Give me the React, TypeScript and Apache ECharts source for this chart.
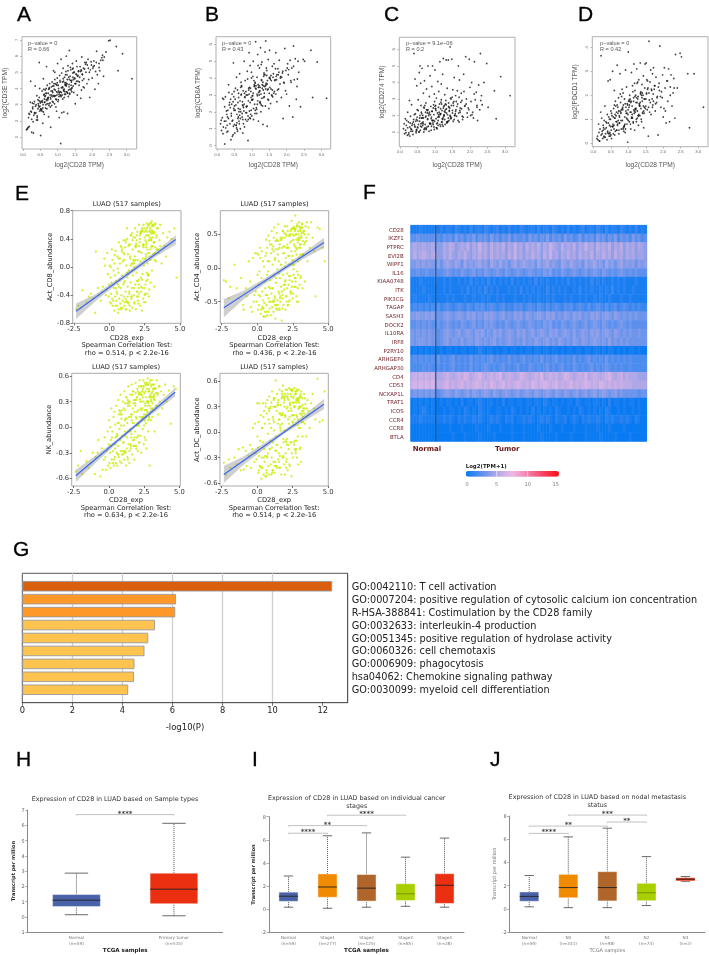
import React, { useEffect, useRef } from "react";
import * as echarts from "echarts";

// ---------- A-D: GEPIA scatter data ----------
const cd28Tpm = [
.10,.12,.13,.15,.16,.18,.19,.21,.22,.22,.24,.25,.27,.28,.30,.31,.33,.35,.37,.39,
.40,.41,.42,.43,.45,.46,.47,.48,.49,.50,.51,.52,.53,.55,.56,.57,.58,.59,.60,.60,
.61,.62,.63,.65,.66,.67,.68,.69,.70,.72,.73,.74,.75,.76,.78,.79,.80,.81,.83,.84,
.85,.86,.88,.89,.90,.91,.92,.93,.95,.96,.97,.98,.99,1.00,1.02,1.03,1.04,1.05,1.07,1.08,
1.09,1.10,1.11,1.12,1.14,1.15,1.16,1.17,1.18,1.19,1.20,1.22,1.23,1.24,1.25,1.26,1.28,1.29,1.30,1.32,
1.33,1.34,1.35,1.36,1.38,1.39,1.40,1.41,1.43,1.44,1.45,1.47,1.48,1.50,1.51,1.52,1.54,1.55,1.57,1.59,
1.60,1.62,1.64,1.65,1.67,1.69,1.70,1.72,1.75,1.77,1.79,1.82,1.85,1.88,1.90,1.93,1.95,1.98,2.00,2.03,
2.05,2.08,2.10,2.13,2.15,2.18,2.20,2.22,2.25,2.28,2.30,2.33,2.35,2.40,2.48,2.52,2.70,2.75,2.88,3.15,
.28,.34,.44,.54,.64,.71,.77,.87,.94,1.01,1.06,1.13,1.21,1.27,1.31,1.37,1.42,1.49,1.56,1.63,
.36,.47,.52,.59,.68,.75,.82,.92,.99,1.05,1.12,1.18,1.25,1.3,1.35,1.46,1.53,1.68,1.74,1.83,
.33,.38,.43,.49,.55,.62,.66,.72,.79,.84,.9,.96,1.03,1.09,1.15,1.2,1.24,1.28,1.33,1.38,
.41,.46,.57,.63,.7,.74,.8,.86,.91,.97,1.02,1.08,1.14,1.19,1.22,1.29,1.34,1.4,1.44,1.5,
.5,.61,.69,.78,.85,.93,1,1.04,1.11,1.16,1.21,1.26,1.32,1.36,1.41,1.47,1.52,1.58,1.66,1.72,
.25,.31,.56,.65,.73,.83,.89,.95,1.07,1.17,1.23,1.39,1.43,1.55,1.61,1.71,1.78,1.86,1.92,2.02,
.17,.29,.48,.67,.76,.88,.98,1.1,1.27,1.45,1.59,1.69,1.76,1.81,1.89,1.97,2.06,2.12,2.2,2.31];
const cd3e = [
1.45,1.5,1.55,1.6,2.2,1.65,2.4,3.15,4.45,2.6,2.55,1.3,3.1,2.75,1.25,3.05,3.2,4.15,2.5,2.05,
3.55,2.3,2.05,3.3,2.95,2.85,5.6,4.0,2.9,3.1,1.1,2.75,3.2,3.85,3.25,1.85,3.0,2.55,3.6,3.95,
2.4,3.35,3.15,3.55,3.0,4.0,5.35,2.75,4.2,3.3,3.7,2.25,3.05,4.05,3.6,3.45,1.6,3.85,2.95,4.4,
3.2,3.75,5.1,4.3,3.5,3.05,5.0,3.9,2.85,4.25,2.6,3.6,4.65,5.55,3.3,4.0,3.65,2.2,4.5,3.8,
0.6,5.8,3.75,2.5,4.1,3.35,5.25,4.45,2.55,3.95,4.7,4.2,3.65,5.05,6.0,3.8,4.55,2.45,5.4,3.9,
4.25,6.35,3.65,4.75,5.15,3.9,4.4,3.8,5.55,4.95,4.15,3.75,5.0,4.6,3.05,4.3,5.7,4.85,3.6,4.45,
5.05,4.2,4.7,5.35,3.4,3.9,5.95,4.5,5.25,4.05,5.6,5.0,4.3,5.8,4.55,3.45,5.15,5.45,4.65,5.35,
5.7,3.95,5.05,6.3,4.85,4.3,5.55,5.1,5.75,5.9,6.05,4.75,5.95,6.25,6.95,6.98,6.6,5.1,6.15,4.6,
2.85,2.45,3.05,2.7,3.9,3.4,4.3,3.15,3.55,3.2,4.8,3.6,4.35,4.85,3.5,5.3,4.05,4.65,5.35,4.4,
2.9,3.45,2.65,4.6,3.7,2.95,4.1,4.55,4.35,3.75,4.95,3.85,4.15,5.1,3.7,4.55,4.9,5.15,4.1,5.6,
2.5,3.0,2.75,3.2,2.6,3.15,3.7,3.4,2.85,3.5,3.95,3.3,3.85,3.55,4.05,3.65,4.35,3.75,4.1,4.5,
2.2,3.25,2.8,3.5,3.05,3.95,3.35,4.15,3.55,3.8,4.2,3.6,4.4,3.45,4.25,3.7,4.55,4.0,4.7,4.3,
2.7,3.65,3.25,3.1,3.85,4.3,3.75,3.5,4.05,4.6,3.8,4.25,4.7,3.95,4.5,5.0,4.3,4.75,5.05,4.85,
2.1,2.35,3.15,2.8,3.45,3.6,4.15,3.35,4.4,3.9,4.85,4.2,5.2,4.45,5.1,4.9,5.2,5.45,5.0,5.25,
2.45,1.95,2.6,3.3,4.0,3.55,4.2,3.5,4.3,5.25,4.8,5.1,4.6,5.5,5.25,5.65,5.4,5.6,5.3,5.75];
const cd8a = [
1.3,1.5,0.9,1.65,2.8,1.1,2.75,1.45,0.1,2.3,2.9,1.05,2.05,0.8,1.7,0.85,3.6,2.4,1.3,2.75,
0.35,1.75,2.45,3.05,1.5,0.65,4.9,2.9,3.2,1.25,0.75,2.1,3.4,1.2,4.05,1.85,0.95,3.3,1.6,2.55,
2.2,3.1,1.45,4.25,2.65,1.0,2.0,3.75,3.55,1.7,2.4,0.75,3.25,1.3,5.0,1.1,2.85,3.85,1.95,3.0,
2.3,1.45,3.95,0.3,2.65,3.4,5.5,2.05,4.75,1.6,3.2,2.85,4.35,1.75,2.95,4.1,5.0,1.55,3.5,2.45,
3.75,2.1,6.15,3.35,1.9,4.05,2.95,5.4,3.6,1.45,3.15,4.6,2.55,3.45,5.8,2.0,3.9,4.95,3.4,1.25,
3.55,2.85,4.2,3.1,5.55,2.35,6.2,3.7,4.45,1.15,3.3,5.1,2.7,4.0,5.65,3.45,2.5,4.15,3.0,4.7,
2.9,4.25,4.85,3.2,3.9,5.5,4.1,2.6,4.55,3.35,5.05,4.0,2.85,4.3,1.6,3.7,5.75,4.45,3.05,4.85,
4.2,2.35,5.05,3.75,4.6,1.7,5.9,3.9,5.15,2.75,3.5,5.0,4.35,2.3,5.1,5.0,5.65,2.85,4.95,2.8,
1.85,3.15,0.55,2.4,1.3,3.5,2.05,4.4,1.65,2.7,3.85,2.25,3.0,4.8,2.35,3.5,4.6,2.2,3.85,3.1,
2.55,1.15,2.75,0.85,3.45,2.35,1.55,3.05,4.0,2.2,3.55,4.75,2.5,3.6,4.3,2.75,3.95,4.55,3.3,4.1,
1.6,2.25,1.45,2.1,1.2,2.85,2.15,1.9,3.1,2.3,1.55,3.4,2.75,1.9,3.05,3.45,2.6,3.85,3.3,4.2,
1.9,2.6,1.35,2.0,3.05,1.55,2.9,2.35,3.3,1.85,2.95,3.55,2.15,3.45,3.2,2.8,4.1,3.35,3.65,3.1,
2.35,1.7,3.0,2.45,1.95,3.45,2.7,3.1,3.4,2.45,3.55,3.05,3.75,2.9,3.6,3.35,4.05,2.95,3.85,4.2,
1.45,2.1,1.05,1.8,2.6,3.2,1.75,2.55,3.6,2.65,3.25,3.55,4.15,3.35,4.05,3.9,4.35,4.05,3.75,4.6,
0.7,1.2,2.2,1.6,2.25,3.0,2.1,3.7,2.4,3.85,3.3,3.05,4.2,3.65,4.4,3.25,4.5,3.85,4.7,3.95];
const cd274 = [
1.2,1.5,0.9,1.8,1.1,1.4,1.7,0.8,2.2,1.25,1.6,0.95,2.9,1.3,1.95,1.05,2.65,1.5,0.85,1.75,
5.75,2.05,1.35,4.2,1.65,0.95,1.15,3.8,2.35,1.7,1.25,2.95,1.45,4.6,1.85,5.0,1.1,3.95,2.6,1.5,
2.2,1.3,4.85,2.0,1.6,3.35,1.0,2.45,4.1,1.45,1.9,2.75,1.2,3.6,2.3,1.75,5.0,1.35,2.1,3.15,
1.55,4.4,2.55,1.1,1.9,3.75,2.25,5.0,1.45,2.65,2.05,3.3,1.65,4.75,2.4,1.8,3.05,1.25,2.15,4.05,
1.7,2.5,3.45,1.9,5.25,2.1,1.35,2.8,3.9,1.6,2.3,4.5,1.85,5.45,2.55,2.0,3.25,1.45,2.7,5.35,
2.4,1.55,3.65,2.05,5.35,2.75,1.7,2.25,6.15,3.05,1.9,2.6,5.4,2.15,3.55,1.65,2.85,4.3,2.0,3.2,
2.35,1.95,3.5,2.7,5.0,1.6,4.15,2.2,3.35,2.9,1.75,4.5,2.55,5.55,3.0,1.9,2.45,5.4,3.7,2.85,
4.0,2.2,1.85,5.25,2.95,3.4,2.5,1.7,3.85,2.35,5.75,3.2,2.65,4.0,5.15,2.5,3.5,1.8,4.35,3.2,
0.75,1.4,2.1,1.0,1.85,2.6,1.3,2.05,1.55,2.4,1.2,2.7,1.8,2.25,2.9,1.65,2.45,3.1,2.0,2.55,
1.05,1.75,2.3,1.35,2.5,1.15,2.0,1.7,2.85,1.5,2.2,2.95,1.95,2.35,1.6,3.0,2.6,2.15,2.8,3.45,
1.15,1.6,1.3,1.9,1.0,2.1,1.5,1.25,1.8,2.2,1.35,1.7,2.3,1.4,2.05,1.6,2.45,1.75,2.15,1.85,
1.45,1.05,2.0,1.55,1.2,1.95,2.35,1.5,2.25,1.3,2.6,1.9,1.45,2.7,1.75,2.2,1.6,2.5,1.95,2.3,
1.3,1.85,1.15,2.15,1.5,1.7,2.55,1.25,1.95,2.4,1.45,2.05,2.65,1.6,2.3,1.85,2.75,2.1,1.7,2.45,
0.85,1.2,1.65,1.4,2.2,1.05,1.8,2.45,1.55,2.1,1.35,2.55,2.0,1.75,2.85,2.3,1.95,2.6,2.15,2.0,
0.95,1.55,1.1,1.85,2.35,1.5,1.15,2.05,2.6,1.8,2.25,3.1,2.4,1.9,2.7,2.35,2.05,3.3,2.6,2.9];
const pdcd1 = [
0.2,0.3,0.15,0.8,0.45,0.1,0.6,1.3,3.65,0.35,1.05,0.5,0.2,0.75,0.3,0.95,1.55,0.4,0.65,0.15,
1.2,0.5,2.6,0.85,0.3,1.0,0.45,2.65,0.7,1.35,0.55,0.2,1.15,3.0,0.8,0.4,1.45,0.6,1.6,2.2,
0.35,1.05,1.75,0.9,1.3,0.55,3.25,0.75,1.5,1.9,0.4,1.15,0.85,2.9,1.7,1.25,0.6,1.95,0.95,1.4,
2.1,1.6,0.7,1.85,1.1,0.45,3.05,1.35,2.35,0.8,1.65,0.05,1.2,3.8,1.5,0.9,2.0,1.3,0.6,1.75,
2.95,1.05,1.55,2.4,0.85,1.9,3.3,1.25,0.55,2.2,1.45,1.7,1.0,3.1,2.5,1.35,1.95,0.75,2.65,1.55,
1.15,3.35,2.05,1.45,0.9,2.45,1.75,1.3,2.8,0.65,1.85,2.3,3.3,1.55,3.35,2.1,1.4,2.6,0.3,4.25,
1.8,2.55,3.05,1.2,2.2,2.9,1.6,3.15,2.4,1.35,2.75,1.9,0.35,2.5,4.05,1.5,2.15,2.85,1.1,3.15,
2.3,0.85,2.6,1.75,3.1,0.9,2.35,2.85,1.55,2.1,2.7,1.05,3.7,2.3,3.75,3.6,2.9,0.65,2.9,1.5,
0.55,0.25,1.1,0.7,1.55,0.95,2.05,0.5,1.25,1.75,0.8,2.15,1.4,2.55,1.65,1.0,2.0,1.45,2.3,1.7,
0.9,0.4,1.25,0.75,1.6,1.1,2.25,0.6,1.4,1.85,1.05,2.5,1.7,1.2,2.1,1.5,2.65,1.85,2.25,1.95,
.6,.85,.4,1.0,.7,1.2,.55,1.35,.95,1.5,.8,1.25,1.6,1.05,1.75,1.3,1.9,1.15,1.55,2.0,
.45,.75,1.1,.5,1.25,.85,1.4,.65,1.65,1.0,1.8,1.3,.9,1.95,1.45,1.15,1.7,2.1,1.35,1.85,
.35,1.05,.8,1.3,.6,1.5,.95,1.75,1.2,1.4,2.0,1.05,1.6,2.15,1.25,1.85,2.05,1.5,2.25,1.75,
.4,.25,.7,1.15,.55,1.45,.75,1.05,1.7,1.35,.9,1.9,1.55,2.25,1.3,2.05,1.65,2.35,1.95,1.45,
.1,.65,.3,.9,1.35,.7,1.6,1.1,1.85,1.25,2.1,1.5,2.4,1.7,2.2,1.9,1.35,2.6,2.0,2.3];

// ---------- E: TIMER style scatter data ----------
const cd28Exp = [
-2.35,-2.2,-2.0,-1.9,-1.6,-1.45,-1.3,-1.15,-1.0,-.95,-.8,-.75,-.6,-.5,-.45,-.35,-.3,-.2,-.15,-.1,
-.05,0,.02,.05,.08,.1,.12,.15,.18,.2,.25,.3,.32,.35,.38,.4,.42,.45,.48,.5,
.52,.55,.58,.6,.62,.65,.68,.7,.72,.75,.78,.8,.82,.85,.88,.9,.92,.95,.98,1.0,
1.02,1.05,1.08,1.1,1.12,1.15,1.18,1.2,1.22,1.25,1.28,1.3,1.32,1.35,1.38,1.4,1.42,1.45,1.48,1.5,
1.52,1.55,1.58,1.6,1.62,1.65,1.68,1.7,1.72,1.75,1.78,1.8,1.82,1.85,1.88,1.9,1.92,1.95,1.98,2.0,
2.02,2.05,2.08,2.1,2.12,2.15,2.18,2.2,2.22,2.25,2.28,2.3,2.32,2.35,2.38,2.4,2.42,2.45,2.48,2.5,
2.52,2.55,2.58,2.6,2.62,2.65,2.68,2.7,2.72,2.75,2.78,2.8,2.82,2.85,2.88,2.9,2.92,2.95,2.98,3.0,
3.02,3.05,3.08,3.1,3.15,3.18,3.2,3.25,3.3,3.35,3.4,3.45,3.5,3.55,3.6,3.7,3.8,3.9,4.0,4.1,
4.25,4.4,4.6,4.75,1.1,1.3,1.6,1.9,2.1,2.3,2.55,2.7,2.85,3.0,2.4,2.65,2.9,1.75,2.0,2.2,
.6,.9,1.15,1.4,1.7,1.95,2.15,2.35,2.6,2.8,3.05,3.25,2.5,2.75,3.15,1.25,1.55,.75,1.85,2.45,
-.25,.22,.44,.7,.95,1.06,1.18,1.33,1.46,1.57,1.66,1.77,1.86,1.96,2.06,2.16,2.26,2.36,2.46,2.56,
.12,.36,.56,.8,1.0,1.14,1.24,1.36,1.44,1.54,1.64,1.74,1.84,1.94,2.04,2.14,2.24,2.34,2.44,2.54,
2.6,2.66,2.7,2.76,2.8,2.86,2.9,2.94,3.0,3.04,3.1,3.14,3.2,3.3,3.36,3.46,3.6,.66,.86,1.26,
2.62,2.68,2.74,2.82,2.88,2.96,3.02,3.08,3.16,3.24,3.34,1.56,1.76,1.92,2.08,2.28,2.42,2.58,2.78,3.12,
.28,.46,.64,.84,1.04,1.16,1.34,1.47,1.62,1.82,1.99,2.11,2.21,2.31,2.47,2.63,2.71,2.87,2.97,3.22];
const actCd8 = [
-.6,-.55,-.58,-.33,-.5,-.42,-.38,-.45,-.65,.22,-.3,-.4,-.48,-.35,-.28,.12,.02,-.32,.2,-.1,
-.42,-.25,.02,-.5,-.15,.0,-.38,-.22,.25,-.45,-.55,-.05,-.3,-.62,.17,-.12,-.42,.23,-.2,-.48,
-.35,-.55,.15,-.25,-.65,-.08,.35,-.45,-.18,.05,-.52,-.3,.3,-.4,.22,-.12,-.58,.08,-.25,.38,
-.42,.1,-.55,-.2,.28,-.35,-.6,.02,-.48,.4,-.15,-.28,.18,-.52,-.05,.32,-.38,-.62,.12,-.22,
.45,-.45,.05,-.3,-.58,.25,-.12,.42,-.4,.0,-.52,.15,.55,-.25,-.6,.3,-.08,-.35,.5,.1,
-.48,.22,-.18,.6,-.38,.35,-.55,.08,.48,-.28,.2,-.62,.55,-.1,.32,-.45,.6,.02,-.3,.42,
.12,-.5,.52,.28,-.2,.62,-.38,.05,.45,.2,-.12,.6,-.32,.38,.55,.1,-.22,.48,.3,.65,
-.05,.42,.6,.18,.5,-.28,.35,.62,.08,.45,.25,.55,.2,.38,.6,.05,.48,.3,.15,.42,
.5,.4,.55,-.15,-.5,-.42,.48,.33,-.3,.52,.38,-.18,.42,.58,.3,-.08,.25,.05,-.2,.5,
-.02,.25,.38,-.35,.1,-.42,.45,-.3,.15,-.42,.5,.28,-.4,-.1,.35,.55,.45,.12,.3,-.5,
-.4,.1,-.55,-.28,-.48,.18,-.6,-.1,.32,-.42,.05,-.5,.28,-.2,-.52,.4,-.35,.12,.5,-.25,
-.52,.05,-.38,-.58,.2,-.45,-.08,.3,-.55,.02,.38,-.3,.1,.45,-.42,.22,-.15,.52,.32,-.38,
.45,.55,.25,.6,.38,.5,.15,.62,.28,.48,.58,.35,.1,.42,.55,.25,.3,-.6,.28,-.5,
.35,.5,.58,.2,.62,.4,.52,.3,.48,.6,.25,-.42,.08,.38,-.25,.5,.28,.18,.45,.6,
-.48,-.3,.12,-.6,-.22,.35,-.5,.15,-.05,.42,-.35,.3,.48,-.18,.55,.32,-.12,.52,.38,.2];
const actCd4 = [
-.18,-.2,-.45,-.28,.05,-.3,-.45,-.15,-.55,-.62,-.3,-.42,.1,-.2,-.58,-.65,.15,-.4,.22,-.35,
-.5,.22,-.1,-.62,.2,-.25,-.55,-.05,.3,-.42,-.68,-.15,.25,-.35,-.6,.1,-.48,-.72,.02,-.52,
-.2,-.65,.18,-.4,.42,-.55,-.1,.3,-.7,-.05,.48,-.45,-.28,.1,-.6,.35,-.18,-.5,.22,-.38,
.55,-.58,.05,-.3,.32,-.65,-.12,.6,-.42,.15,-.75,.28,-.22,-.55,.42,-.02,-.48,.2,.65,-.35,
.1,-.6,.35,-.15,-.5,.45,-.28,.05,-.78,.3,-.4,.55,-.1,-.55,.22,-.32,.45,.02,-.62,.15,
.5,-.42,.3,-.08,.62,-.55,.18,-.25,.48,.05,-.48,.38,-.12,.55,-.35,.25,.7,-.2,.12,.5,
-.38,.42,.05,.6,-.28,.32,.78,-.15,.5,-.42,.2,.62,-.05,.38,-.5,.55,.15,.68,-.25,.45,
.3,.58,-.12,.45,.65,-.3,.2,.52,.35,-.2,.62,.4,.68,.1,.5,.3,.68,.45,.25,-.42,
.6,.58,.3,.1,-.5,.4,-.45,.52,-.3,.48,-.1,.58,-.3,.35,.58,-.15,.42,-.6,.08,.3,
-.72,-.3,.25,-.62,.42,-.2,.55,-.35,.48,-.5,.2,.55,-.45,.3,.6,-.55,.3,.1,-.25,.05,
-.5,.15,-.6,-.4,-.7,.28,-.5,-.15,.4,-.62,.05,-.45,.32,-.25,.48,-.55,.18,-.38,.58,-.02,
-.4,-.58,-.3,-.65,.35,-.48,.12,.52,-.55,-.08,.42,-.35,.22,.62,-.42,.3,-.12,.5,-.28,.6,
.35,.55,-.2,.42,.62,.1,.5,.3,.6,-.15,.48,.66,.2,.55,.38,.45,.6,-.65,.4,-.45,
.58,.25,.5,.65,-.1,.42,.55,.35,.6,.2,.5,-.38,.45,.32,-.5,-.18,.4,.6,.28,.52,
-.62,-.72,.22,-.5,-.3,.45,-.6,.28,-.42,.55,-.18,.35,-.5,.5,.18,.58,-.28,.45,.62,.4];
const nkAbund = [
-.52,-.45,-.28,-.55,-.4,-.48,-.42,-.3,-.55,-.35,-.3,-.15,-.58,-.25,-.5,-.38,-.12,-.5,-.28,-.05,
-.45,-.2,.08,-.42,-.3,.0,-.48,-.15,.22,-.38,-.05,-.28,.12,-.45,-.2,.18,-.35,.03,-.12,-.42,
.25,-.3,-.08,-.45,.05,-.22,.32,-.35,.15,-.02,-.4,-.15,.38,-.28,.1,-.42,.2,-.1,-.32,.3,
-.18,.02,-.38,.42,-.05,.2,-.3,.1,-.45,.35,-.12,.05,-.35,.25,.48,-.2,.12,-.42,.3,-.02,
.38,-.25,.15,-.08,.5,-.32,.22,.42,-.15,.05,.32,-.38,.18,-.05,.28,.52,-.22,.1,.35,-.12,
.45,-.28,.2,.02,.38,-.18,.55,.12,-.1,.3,.48,-.3,.08,.42,.22,-.02,.35,.55,-.2,.15,
.4,-.12,.28,.5,.05,.35,-.25,.45,.18,.57,-.05,.3,.42,.12,.52,-.45,.25,.38,.08,.48,
.3,.55,.12,.42,.2,.5,.33,-.05,.45,.25,.55,.38,.15,.48,.3,.42,.22,.38,.5,.3,
.43,.04,.48,.45,-.3,.28,-.12,.4,.02,.48,.08,.5,.15,.32,.42,.2,.36,-.22,.18,.33,
-.1,.15,-.28,.3,.05,-.25,.4,.12,-.15,.28,.35,.45,.02,.25,.45,.1,-.05,.2,.32,.3,
-.35,-.12,-.25,.05,-.32,.22,-.1,.32,-.28,.12,.38,-.15,.25,.02,.42,-.18,.3,.1,.48,.2,
-.22,-.38,-.1,.18,-.28,.08,.35,-.05,.28,-.2,.15,.42,-.12,.32,.05,.48,.22,.38,.12,.52,
.42,.2,.5,.3,.08,.45,.35,.55,.18,.4,.28,.5,.38,.46,.25,.4,.48,-.32,.02,-.25,
.15,.52,.3,.42,.1,.35,.5,.22,.45,.32,.4,-.22,.28,.12,-.1,.38,.45,.25,.5,.35,
-.42,-.2,-.32,.15,-.18,.28,-.38,.25,.08,-.22,.35,.05,.4,.2,.48,.12,.3,.42,.22,.36];
const actDc = [
-.36,-.5,-.32,-.42,-.3,-.38,-.2,-.45,-.18,-.44,-.22,-.4,-.28,-.15,-.42,-.2,.05,-.35,.1,-.25,
-.32,.34,-.05,-.18,-.48,.12,-.28,.34,-.4,-.1,.2,-.55,-.3,.05,-.42,-.12,.34,-.5,.25,-.2,
-.35,.1,-.52,.3,-.15,-.45,.22,-.28,.38,-.02,-.4,.15,-.5,.42,-.2,.28,-.1,-.38,.05,.35,
-.3,.48,-.45,.18,-.12,-.35,.4,.02,-.48,.3,-.22,.61,-.05,-.4,.25,.45,-.15,.1,-.32,.38,
-.25,.15,.5,-.42,.05,.32,-.18,-.5,.4,.1,-.3,.22,.55,-.12,.35,-.38,.02,.45,.18,-.25,
.5,-.35,.28,-.08,.42,-.45,.15,.38,-.2,.52,.05,-.4,.32,.45,-.12,.25,-.52,.5,.12,.35,
-.3,.42,.2,-.15,.52,.3,.08,.45,-.25,.35,-.1,.48,.18,.38,-.38,.28,.5,.05,.4,-.2,
.22,.42,-.35,.3,.12,.4,-.05,.25,.45,.1,.33,.18,.28,.38,.2,.05,.34,.45,.28,.15,
.63,.12,.14,.48,-.45,.3,-.28,.4,-.15,.33,.2,.45,-.05,.3,.42,-.2,.36,.2,-.1,.25,
.34,-.2,.3,-.42,.2,-.5,.4,-.12,.3,-.3,.45,.28,.12,.38,.22,-.4,.15,-.25,.42,.2,
-.25,-.4,.18,-.3,.3,-.48,.12,-.22,.35,-.42,.02,.42,-.3,.2,-.12,.45,-.38,.28,.5,.08,
-.45,.05,-.28,.28,-.5,.15,.4,-.15,.32,-.35,.22,.48,-.08,.38,-.42,.3,.1,.5,-.25,.4,
.35,-.1,.45,.2,.5,.08,.38,.28,.42,-.18,.48,.12,.32,.22,.4,-.05,.25,-.48,.1,-.35,
.3,.48,-.2,.4,.15,.35,.05,.42,.25,.12,.28,.22,.45,.3,-.32,.18,.5,-.12,.38,.2,
-.42,-.3,-.52,.25,-.18,.38,-.4,.32,.08,-.28,.42,.5,-.15,.35,.48,.15,-.22,.4,.3,.18];

const fitCd8 = [[-2.35,-.63],[4.7,.39]];
const fitCd4 = [[-2.35,-.59],[4.7,.38]];
const fitNk = [[-2.35,-.57],[4.7,.41]];
const fitDc = [[-2.35,-.5],[4.7,.33]];
const bandCd8 = [[-2.35,-.74,-.52],[-1,-.49,-.39],[.5,-.25,-.18],[1.9,-.05,.02],[3.3,.15,.225],[4.7,.32,.45]];
const bandCd4 = [[-2.35,-.73,-.46],[-1,-.47,-.34],[.5,-.24,-.16],[1.9,-.04,.03],[3.3,.14,.23],[4.7,.3,.45]];
const bandNk = [[-2.35,-.64,-.5],[-1,-.43,-.34],[.5,-.2,-.15],[1.9,0,.04],[3.3,.18,.25],[4.7,.36,.46]];
const bandDc = [[-2.35,-.6,-.4],[-1,-.39,-.29],[.5,-.2,-.13],[1.9,-.02,.025],[3.3,.13,.2],[4.7,.27,.39]];

// ---------- F: heatmap (each hex digit = value x 2) ----------
const genes = ["CD28","IKZF1","PTPRC","EVI2B","WIPF1","IL16","KIAA0748","ITK","PIK3CG","TAGAP","SASH3","DOCK2","IL10RA","IRF8","P2RY10","ARHGEF6","ARHGAP30","CD4","CD53","NCKAP1L","TRAT1","ICOS","CCR4","CCR8","BTLA"];
const heatRows = [
"1112111121 2122132121 3122132123 1213121321 2213122132 1213121231 2213213122 1321213121",
"5565555565 4656475646 5746564756 4657465564 7564657465 6475645746 5647564657 4656475645",
"9a99a99a98 8a9ba89a9b 8a9c9a8b9a 9b8a9c9a8b 9a9b8a9ca9 8b9a9b8a9c 9a8b9a9b8a 9b8a9a8a98",
"9b9aba9ab8 8a9b98a9b9 8a9b9a8b9a 9a8b9c9a8a 9b9a8b9c9a 8a9b9a8b9a 9b8a9b9a8b 9a8a9a8998",
"7787878778 6898798697 8789786987 9786897898 7869789787 6987987869 7897869786 8978786878",
"5565565565 5676565765 6756576567 6576567656 7656576756 5765676567 5676576565 6765656555",
"1112111121 1212112121 3121213121 2121312121 2131212112 1213121212 1312121121 2121112111",
"1111211111 1212111213 1212131212 1112121312 1212113121 2121121312 1211212131 2121121111",
"1211112111 1121211121 1211212112 1211121121 2112112121 1121211212 1121211211 1211211111",
"3434343435 3454345435 4354534543 4534354534 5435435345 4354534543 5345435345 3454343433",
"7787787876 6787678768 7867687876 7867687868 7678768786 7687687867 6878678768 7676767666",
"5565656556 5676565765 6756576765 6576567656 7656576756 5765676567 5676576565 6765655555",
"7676767675 6787678678 7687867687 8678768786 7867876878 6787686787 6878678768 7676766766",
"7677767675 6786776867 7687676786 7678767686 7687678676 8767687687 6787676867 6767666666",
"0101010100 1011010110 1012101101 0110110101 1011011011 0101101101 1011010110 1010110100",
"4545454546 4545645454 6454545645 4546454564 5454645456 4545464545 6454546454 5454544444",
"4444545445 4545645454 6454565454 5645456454 6545456454 5645465454 5645456545 4544544444",
"bcbcbcbcba abcbabcbdc abcdbabcbc dabcbabdcb abcbdabcbc abdcbabcbd abcbabcdba bcabaaa999",
"cdcdcdcdcb bcdbcbcdbc bcdcbcbdcb cdbcbcdcbc bdcbcdcbcd bcbcdbcbcd cbcbdcbcbc bcbbbaaaaa",
"6767676765 6787687678 6876787687 6787678678 7687678768 7687678678 6786787678 6766666566",
"0101010100 1011010201 1012101101 0201101101 1011021011 0101102101 1011010201 1010110100",
"0101210100 0101101021 0102101001 1010210101 0201010102 1001010210 1010102100 1010010100",
"1112111111 1212102121 1212101212 1021201121 2101212102 1120121021 2112102121 1212102100",
"0000000000 0001000100 0010001000 1000100010 0001000100 0100010001 0001000100 0010000000",
"0000000000 0000100010 0001000010 0000100010 0000100001 0000100001 0000100001 0000100000"];
const heatStops = ["#087af2","#5c90ee","#b0a8e6","#f0b8e8","#f47ea8","#f84060","#fe0c10"];
const heatBarTicks = ["0","5","10","15"];
const normalTumorGapColumn = 8;

// ---------- G: enrichment ----------
const goTerms = ["GO:0042110: T cell activation","GO:0007204: positive regulation of cytosolic calcium ion concentration","R-HSA-388841: Costimulation by the CD28 family","GO:0032633: interleukin-4 production","GO:0051345: positive regulation of hydrolase activity","GO:0060326: cell chemotaxis","GO:0006909: phagocytosis","hsa04062: Chemokine signaling pathway","GO:0030099: myeloid cell differentiation"];
const goLogP = [12.38,6.14,6.11,5.3,5.03,4.88,4.48,4.46,4.23];
const goColors = ["#d95f0e","#fe9929","#fe9929","#fec44f","#fec44f","#fec44f","#fec44f","#fec44f","#fec44f"];
const goTicks = [0,2,4,6,8,10,12];

// ---------- H-J: box plots  [min, q1, median, q3, max] ----------
const sampleCats = ["Normal\n(n=59)","Primary tumor\n(n=515)"];
const sampleBoxes = [[0.15,0.68,1.1,1.47,2.87],[0.08,0.87,1.82,2.87,6.13]];
const stageCats = ["Normal\n(n=59)","Stage1\n(n=277)","Stage2\n(n=125)","Stage3\n(n=85)","Stage4\n(n=28)"];
const stageBoxes = [[0.17,0.68,1.12,1.47,2.87],[0.08,1.03,1.92,3.05,6.35],[0.17,0.7,1.82,3.0,6.6],[0.25,0.75,1.33,2.2,4.5],[0.17,0.5,2.07,3.07,6.15]];
const nodalCats = ["Normal\n(n=59)","N0\n(n=331)","N1\n(n=98)","N2\n(n=74)","N3\n(n=2)"];
const nodalBoxes = [[0.17,0.65,1.07,1.45,2.87],[0.1,0.95,1.83,2.97,6.2],[0.1,0.68,1.83,3.2,6.95],[0.28,0.7,1.38,2.2,4.5],[2.35,2.4,2.55,2.68,2.78]];
const boxFill = { normal:"#4a63a8", tumor:"#ea3010", s1:"#f08a00", s2:"#b0662a", s3:"#a8d000" };
const sampleColors = [boxFill.normal, boxFill.tumor];
const stageColors = [boxFill.normal, boxFill.s1, boxFill.s2, boxFill.s3, boxFill.tumor];
// [from category, to category, y value, stars]
const sampleBrackets: any[] = [[0,1,6.7,"****"]];
const stageBrackets: any[] = [[0,1,6.57,"****"],[0,2,7.23,"**"],[1,3,8.13,"****"]];
const nodalBrackets: any[] = [[0,1,6.5,"****"],[0,2,7.13,"**"],[1,3,8.08,"***"],[2,3,7.48,"**"]];

const SANS = "Liberation Sans";
const DJV = "DejaVu Sans";

function hexRow(s: string) {
  return s.replace(/ /g, "").split("").map((c) => parseInt(c, 16) / 2);
}

function buildOption() {
  const grid: any[] = [], xAxis: any[] = [], yAxis: any[] = [], series: any[] = [], gfx: any[] = [];
  const addGrid = (l: number, r: number, t: number, b: number, extra: any = {}) => {
    grid.push({ left: l, top: t, width: r - l, height: b - t, show: true, backgroundColor: "transparent", borderWidth: 1, borderColor: "#b5b5b5", ...extra });
    return grid.length - 1;
  };
  const txt = (text: string, x: number, y: number, o: any = {}) =>
    gfx.push({ type: "text", x, y, silent: true, style: { text, fontFamily: SANS, fontSize: 6, fill: "#333", align: "left", verticalAlign: "middle", ...o } });

  // panel letters
  const letters: any[] = [["A",17,13],["B",205,13],["C",384,13],["D",578,13],["E",15,192],["F",363,191],["G",13,548],["H",16,758],["I",252,758],["J",490,758]];
  letters.forEach(([t,x,y]) => txt(t,x,y,{ fontSize: 21, fill: "#000", stroke:"#000", lineWidth:0.3 }));

  // A-D
  const rPanels: any[] = [
    { box:[21.7,136.7,36.7,149], xr:[-0.03,3.29], yr:[0.26,7.2], yt:[1,2,3,4,5,6,7], y:cd3e, name:"log2(CD3E TPM)", gap:14, xgap:12, p:"p\u2212value = 0", r:"R = 0.66", tx:28 },
    { box:[216,330.7,36.7,149], xr:[-0.03,3.27], yr:[-0.2,6.45], yt:[0,1,2,3,4,5,6], y:cd8a, name:"log2(CD8A TPM)", gap:15, xgap:12, p:"p\u2212value = 0", r:"R = 0.43", tx:222 },
    { box:[399.3,515,37.3,146.7], xr:[-0.02,3.29], yr:[0.11,6.73], yt:[1,2,3,4,5,6], y:cd274, name:"log2(CD274 TPM)", gap:14, xgap:14, p:"p\u2212value = 9.1e\u221206", r:"R = 0.2", tx:406 },
    { box:[592.3,708,36.7,146.7], xr:[-0.03,3.28], yr:[-0.14,4.44], yt:[0,1,2,3,4], y:pdcd1, name:"log2(PDCD1 TPM)", gap:14, xgap:14, p:"p\u2212value = 0", r:"R = 0.42", tx:600 },
  ];
  const rXTicks = [0,0.5,1,1.5,2,2.5,3];
  rPanels.forEach((p) => {
    const g = addGrid(p.box[0],p.box[1],p.box[2],p.box[3],{ borderColor:"#b0b0b0" });
    xAxis.push({ gridIndex:g, type:"value", min:p.xr[0], max:p.xr[1], splitLine:{show:false}, axisLine:{show:false,onZero:false},
      axisTick:{show:true,customValues:rXTicks,length:2,lineStyle:{color:"#999",width:0.6}},
      axisLabel:{customValues:rXTicks,fontSize:4.2,color:"#666",margin:3,fontFamily:SANS,formatter:(v:number)=>v.toFixed(1)},
      name:"log2(CD28 TPM)", nameLocation:"middle", nameGap:p.xgap, nameTextStyle:{fontSize:6.6,color:"#555",fontFamily:SANS} });
    yAxis.push({ gridIndex:g, type:"value", min:p.yr[0], max:p.yr[1], splitLine:{show:false}, axisLine:{show:false,onZero:false},
      axisTick:{show:true,customValues:p.yt,length:2,lineStyle:{color:"#999",width:0.6}},
      axisLabel:{customValues:p.yt,fontSize:4.2,color:"#666",margin:4,rotate:90,fontFamily:SANS},
      name:p.name, nameLocation:"middle", nameGap:p.gap, nameTextStyle:{fontSize:6.6,color:"#555",fontFamily:SANS} });
    series.push({ type:"scatter", xAxisIndex:g, yAxisIndex:g, symbolSize:1.7, itemStyle:{color:"#111"}, data:cd28Tpm.map((x,i)=>[x,p.y[i]]) });
    txt(p.p,p.tx,42.7,{fontSize:5.6,fill:"#555"});
    txt(p.r,p.tx,49.3,{fontSize:5.6,fill:"#555"});
  });

  // E
  const ePanels: any[] = [
    { box:[72.7,181,210.7,323.3], xr:[-2.59,5.07], yr:[-0.8,0.8], yt:[-0.8,-0.4,0,0.4,0.8], y:actCd8, fit:fitCd8, band:bandCd8, name:"Act_CD8_abundance", rho:"rho = 0.514, p < 2.2e-16" },
    { box:[220.3,328.7,210.7,323.3], xr:[-2.6,5.03], yr:[-0.821,0.851], yt:[-0.5,0,0.5], y:actCd4, fit:fitCd4, band:bandCd4, name:"Act_CD4_abundance", rho:"rho = 0.436, p < 2.2e-16" },
    { box:[71.7,180.3,373.3,486], xr:[-2.64,5.07], yr:[-0.69,0.632], yt:[-0.6,-0.3,0,0.3,0.6], y:nkAbund, fit:fitNk, band:bandNk, name:"NK_abundance", rho:"rho = 0.634, p < 2.2e-16" },
    { box:[220,328.3,373.3,486], xr:[-2.62,5.01], yr:[-0.635,0.694], yt:[-0.6,-0.3,0,0.3,0.6], y:actDc, fit:fitDc, band:bandDc, name:"Act_DC_abundance", rho:"rho = 0.514, p < 2.2e-16" },
  ];
  const eXTicks = [-2.5,0,2.5,5];
  ePanels.forEach((p) => {
    const g = addGrid(p.box[0],p.box[1],p.box[2],p.box[3],{ borderColor:"#aaaaaa" });
    xAxis.push({ gridIndex:g, type:"value", min:p.xr[0], max:p.xr[1], splitLine:{show:false}, axisLine:{show:false,onZero:false},
      axisTick:{show:true,customValues:eXTicks,length:2,lineStyle:{color:"#333",width:0.7}},
      axisLabel:{customValues:eXTicks,fontSize:6.8,color:"#333",margin:2.5,fontFamily:DJV,formatter:(v:number)=>v.toFixed(1)},
      name:"CD28_exp\nSpearman Correlation Test:\n"+p.rho, nameLocation:"middle", nameGap:10, nameTextStyle:{fontSize:6.7,lineHeight:7.6,color:"#222",fontFamily:DJV} });
    yAxis.push({ gridIndex:g, type:"value", min:p.yr[0], max:p.yr[1], splitLine:{show:false}, axisLine:{show:false,onZero:false},
      axisTick:{show:true,customValues:p.yt,length:2,lineStyle:{color:"#333",width:0.7}},
      axisLabel:{customValues:p.yt,fontSize:6.8,color:"#333",margin:2.5,fontFamily:DJV,formatter:(v:number)=>v.toFixed(1)},
      name:p.name, nameLocation:"middle", nameGap:17, nameTextStyle:{fontSize:6.7,color:"#222",fontFamily:DJV} });
    series.push({ type:"scatter", xAxisIndex:g, yAxisIndex:g, symbolSize:2.3, itemStyle:{color:"#c6ef00"}, data:cd28Exp.map((x,i)=>[x,p.y[i]]) });
    const band = p.band;
    series.push({ type:"custom", xAxisIndex:g, yAxisIndex:g, silent:true, encode:{x:0,y:[1,2]}, data:band, z:3,
      renderItem:(params:any, api:any)=>{
        if (params.dataIndex !== 0) return null;
        const up = band.map((b:number[])=>api.coord([b[0],b[2]]));
        const lo = band.map((b:number[])=>api.coord([b[0],b[1]])).reverse();
        return { type:"polygon", shape:{points:up.concat(lo)}, style:{fill:"rgba(140,140,140,0.42)",stroke:"none"} };
      } });
    series.push({ type:"line", xAxisIndex:g, yAxisIndex:g, showSymbol:false, z:4, lineStyle:{color:"#3a68ee",width:1.2}, data:p.fit });
    txt("LUAD (517 samples)",(p.box[0]+p.box[1])/2,p.box[2]-6.5,{fontSize:6.7,fontFamily:DJV,align:"center",fill:"#222"});
  });

  // F heatmap
  const heatValues = heatRows.map(hexRow);
  const gH = addGrid(410.7,646.7,225.3,441.3,{ borderColor:"#78b0f2" });
  const cols = heatValues[0].map((_:number,i:number)=>String(i));
  xAxis.push({ gridIndex:gH, type:"category", data:cols, axisLine:{show:false}, axisTick:{show:false}, axisLabel:{show:false}, splitLine:{show:false} });
  yAxis.push({ gridIndex:gH, type:"category", inverse:true, data:genes, axisLine:{show:false}, axisTick:{show:false}, splitLine:{show:false},
    axisLabel:{interval:0,fontSize:5.4,color:"#6e1e24",fontFamily:DJV,margin:7} });
  const heatData: number[][] = [];
  heatValues.forEach((row:number[],r:number)=>row.forEach((v:number,c:number)=>{ if (c<cols.length) heatData.push([c,r,v]); }));
  const heatIdx = series.length;
  series.push({ type:"heatmap", xAxisIndex:gH, yAxisIndex:gH, progressive:0, data:heatData, itemStyle:{borderWidth:0}, emphasis:{disabled:true} });
  series.push({ type:"custom", xAxisIndex:gH, yAxisIndex:gH, silent:true, z:5, encode:{x:0,y:1}, data:[[normalTumorGapColumn,0]],
    renderItem:(_p:any, api:any)=>{
      const top = api.coord([api.value(0),0]);
      const bot = api.coord([api.value(0),genes.length-1]);
      const h = api.size([0,1])[1]/2;
      return { type:"line", shape:{x1:top[0],y1:top[1]-h,x2:bot[0],y2:bot[1]+h}, style:{stroke:"#1d5a90",lineWidth:1.3} };
    } });
  txt("Normal",412.7,449.3,{fontSize:7,fontWeight:"bold",fill:"#6b1515",fontFamily:DJV});
  txt("Tumor",495,449.3,{fontSize:7,fontWeight:"bold",fill:"#6b1515",fontFamily:DJV});
  txt("Log2(TPM+1)",465.7,465.7,{fontSize:5.4,fontWeight:"bold",fill:"#222",fontFamily:DJV});
  const barTickX = [467,496.7,527.7,555.7];
  heatBarTicks.forEach((t,i)=>txt(t,barTickX[i],483.5,{fontSize:5,fill:"#777",align:"center",fontFamily:DJV}));
  [496.7,527.7].forEach((x)=>gfx.push({type:"line",silent:true,z:100,shape:{x1:x,y1:471,x2:x,y2:476.7},style:{stroke:"#fff",lineWidth:0.6}}));

  // G
  const gG = addGrid(22.3,347.7,573.3,702.7,{ borderColor:"#555", borderWidth:1 });
  xAxis.push({ gridIndex:gG, type:"value", min:0, max:13,
    axisLine:{show:true,onZero:false,lineStyle:{color:"#555",width:1}},
    axisTick:{show:true,customValues:goTicks,length:3,lineStyle:{color:"#333",width:0.7}},
    splitLine:{show:true,showMinLine:false,showMaxLine:false,lineStyle:{color:"#cfcfcf",width:1.3}},
    axisLabel:{customValues:goTicks,fontSize:8.3,color:"#222",margin:3.5,fontFamily:DJV},
    name:"-log10(P)", nameLocation:"middle", nameGap:20, nameTextStyle:{fontSize:8.5,color:"#222",fontFamily:DJV} });
  yAxis.push({ gridIndex:gG, type:"category", inverse:true, boundaryGap:false, position:"right", data:["",...goTerms,""],
    axisLine:{show:true,onZero:false,lineStyle:{color:"#555",width:1}}, axisTick:{show:false}, splitLine:{show:false},
    axisLabel:{interval:0,fontSize:10.8,color:"#222",margin:4,fontFamily:"DejaVu Sans Condensed"} });
  series.push({ type:"bar", xAxisIndex:gG, yAxisIndex:gG, barWidth:10.5, z:3,
    data:[null,...goLogP.map((v,i)=>({value:v,itemStyle:{color:goColors[i],borderColor:"#9a9a9a",borderWidth:0.9}})),null] });

  // H-J
  const boxPanel = (o:any) => {
    const g = addGrid(o.l,o.r,o.t,o.b,{ show:false });
    xAxis.push({ gridIndex:g, type:"category", data:o.cats, axisLine:{show:true,onZero:false,lineStyle:{color:"#8a8a8a",width:1}}, axisTick:{show:false}, splitLine:{show:false},
      axisLabel:{interval:0,fontSize:4.2,lineHeight:5.4,color:"#777",margin:3,fontFamily:DJV},
      name:"TCGA samples", nameLocation:"middle", nameGap:15, nameTextStyle:{fontSize:o.boldNames?5.6:5,fontWeight:o.boldNames?"bold":"normal",color:o.boldNames?"#222":"#777",fontFamily:DJV} });
    yAxis.push({ gridIndex:g, type:"value", min:o.min, max:o.max, interval:o.step, axisLine:{show:true,onZero:false,lineStyle:{color:"#8a8a8a",width:1}}, axisTick:{show:true,length:2.5,lineStyle:{color:"#8a8a8a",width:0.7}}, splitLine:{show:false},
      axisLabel:{fontSize:5,color:"#666",margin:3,fontFamily:DJV},
      name:"Transcript per million", nameLocation:"middle", nameGap:o.nameGap, nameTextStyle:{fontSize:5,fontWeight:o.boldNames?"bold":"normal",color:o.boldNames?"#222":"#777",fontFamily:DJV} });
    const boxes = o.boxes; const colors = o.colors;
    series.push({ type:"custom", xAxisIndex:g, yAxisIndex:g, silent:true, encode:{x:0,y:[1,2,3,4,5]}, clip:false,
      data:boxes.map((b:number[],i:number)=>[i,...b]),
      renderItem:(params:any, api:any)=>{
        const i = api.value(0);
        const band = api.size([1,0])[0];
        const c = api.coord([i,0])[0];
        const y = (k:number)=>api.coord([i,api.value(k)])[1];
        const bw = band*0.245, cw = band*0.12;
        const dark = "#444";
        const medColor = colors[params.dataIndex]===boxFill.s3 ? "#748a10" : "#222";
        return { type:"group", children:[
          { type:"line", shape:{x1:c,y1:y(4),x2:c,y2:y(5)}, style:{stroke:dark,lineWidth:0.9,lineDash:[1,1]} },
          { type:"line", shape:{x1:c,y1:y(1),x2:c,y2:y(2)}, style:{stroke:dark,lineWidth:0.9,lineDash:[1,1]} },
          { type:"line", shape:{x1:c-cw,y1:y(5),x2:c+cw,y2:y(5)}, style:{stroke:dark,lineWidth:0.8} },
          { type:"line", shape:{x1:c-cw,y1:y(1),x2:c+cw,y2:y(1)}, style:{stroke:dark,lineWidth:0.8} },
          { type:"rect", shape:{x:c-bw,y:y(4),width:bw*2,height:y(2)-y(4)}, style:{fill:colors[params.dataIndex],stroke:"rgba(255,255,255,0.55)",lineWidth:0.8} },
          { type:"line", shape:{x1:c-bw,y1:y(3),x2:c+bw,y2:y(3)}, style:{stroke:medColor,lineWidth:0.9} },
        ]};
      } });
    const brackets = o.brackets;
    series.push({ type:"custom", xAxisIndex:g, yAxisIndex:g, silent:true, encode:{x:[0,1],y:2}, clip:false,
      data:brackets.map((b:any[])=>[b[0],b[1],b[2]]),
      renderItem:(params:any, api:any)=>{
        const a = api.coord([api.value(0),api.value(2)]);
        const b = api.coord([api.value(1),api.value(2)]);
        return { type:"group", children:[
          { type:"polyline", shape:{points:[[a[0],a[1]+1],[a[0],a[1]],[b[0],b[1]],[b[0],b[1]+1]]}, style:{fill:"none",stroke:"#a8a8a8",lineWidth:0.7} },
          { type:"text", style:{ text:brackets[params.dataIndex][3], x:(a[0]+b[0])/2, y:a[1]-1, align:"center", verticalAlign:"middle", fontSize:7, fontFamily:DJV, fontWeight:"bold", fill:"#444" } },
        ]};
      } });
    txt(o.title,o.tx,o.ty,{fontSize:6.4,lineHeight:8,fontFamily:DJV,align:"center",verticalAlign:"top",fill:"#333"});
  };
  boxPanel({ l:27.7,r:222.7,t:810,b:932.3,min:-1,max:7,step:1,cats:sampleCats,boxes:sampleBoxes,colors:sampleColors,brackets:sampleBrackets,boldNames:true,nameGap:12,
    title:"Expression of CD28 in LUAD based on Sample types",tx:115,ty:794.7 });
  boxPanel({ l:269,r:464,t:816.7,b:932.3,min:-2,max:8,step:2,cats:stageCats,boxes:stageBoxes,colors:stageColors,brackets:stageBrackets,boldNames:true,nameGap:14,
    title:"Expression of CD28 in LUAD based on individual cancer\nstages",tx:356.7,ty:794 });
  boxPanel({ l:509.7,r:705,t:816,b:932,min:-2,max:8,step:2,cats:nodalCats,boxes:nodalBoxes,colors:stageColors,brackets:nodalBrackets,boldNames:false,nameGap:13,
    title:"Expression of CD28 in LUAD based on nodal metastasis\nstatus",tx:597.3,ty:793 });

  return {
    animation:false, backgroundColor:"#fff", tooltip:{show:false},
    grid, xAxis, yAxis, series,
    visualMap:{ type:"continuous", min:0, max:15, seriesIndex:heatIdx, dimension:2, show:true, calculable:false, orient:"horizontal", left:465.7, top:471, padding:0, itemWidth:5.7, itemHeight:93.3, inRange:{color:heatStops}, textStyle:{fontSize:1,color:"transparent"} },
    graphic:{ elements:gfx },
  };
}

export default function App() {
  const ref = useRef<HTMLDivElement>(null);
  useEffect(() => {
    const chart = echarts.init(ref.current!, undefined, { renderer: "svg" });
    chart.setOption(buildOption() as any);
    return () => chart.dispose();
  }, []);
  return <div ref={ref} style={{ position: "absolute", left: 0, top: 0, width: 709, height: 955, filter: "blur(0.3px)" }} />;
}
